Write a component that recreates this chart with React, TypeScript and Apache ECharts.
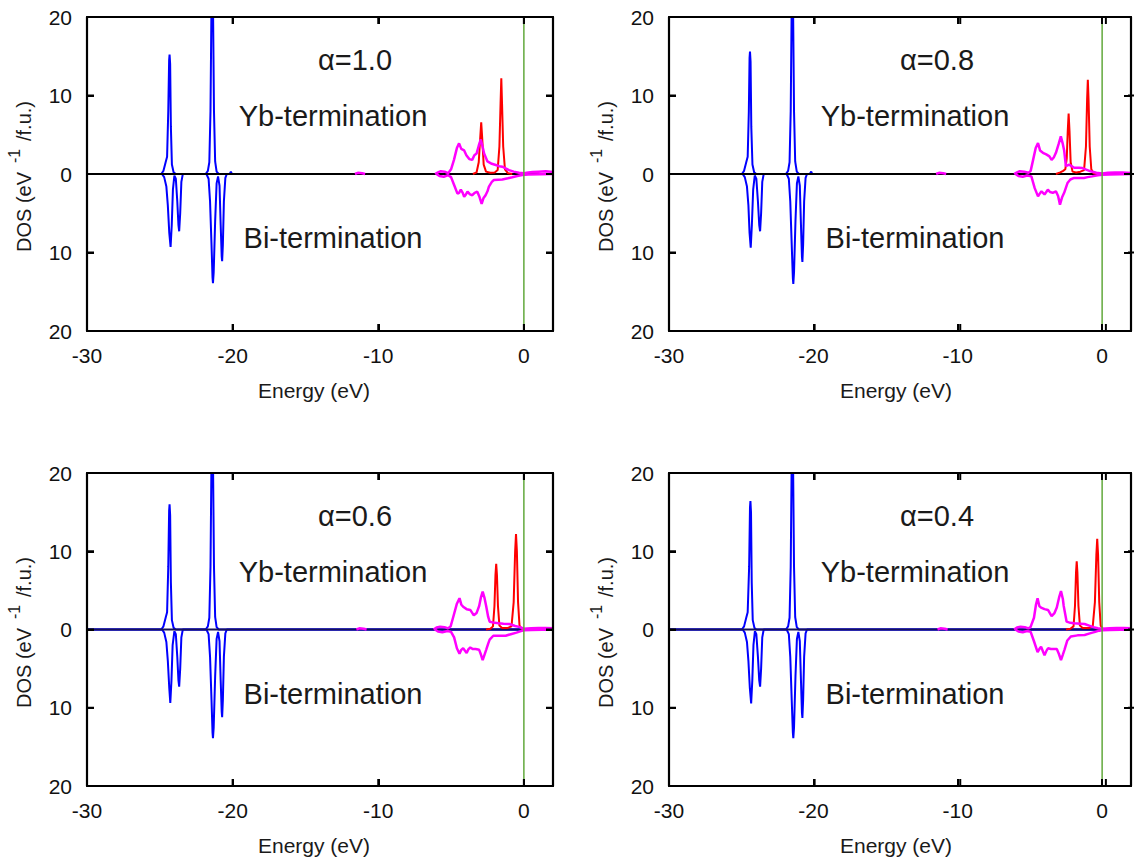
import React, { useEffect, useRef } from "react";
import * as echarts from "echarts";

// ---------- data ----------
const xTicks = [-30, -20, -10, 0];
const yTicks = [-20, -10, 0, 10, 20];
const X_MAX = 2;
const alphaLabels = ["α=1.0", "α=0.8", "α=0.6", "α=0.4"];
const ybLabel = "Yb-termination";
const biLabel = "Bi-termination";
const xTitle = "Energy (eV)";

// α = 1.0
const blueUp1 = [[-30,0],[-24.9,0],[-24.75,0.4],[-24.6,1.5],[-24.5,2.2],[-24.42,8],[-24.36,14.5],[-24.33,15.2],[-24.29,14],[-24.24,6],[-24.17,1.2],[-24.05,0.2],[-23.9,0],[-21.85,0],[-21.7,0.4],[-21.6,1.5],[-21.52,8],[-21.45,22],[-21.4,27],[-21.35,22],[-21.28,8],[-21.2,1.6],[-21.1,0.3],[-20.95,0],[-20.2,0],[-20.12,0.3],[-20.05,0],[2,0]];
const blueDown1 = [[-30,0],[-24.85,0],[-24.7,-0.4],[-24.55,-1.6],[-24.45,-4],[-24.35,-7.5],[-24.26,-9.3],[-24.18,-6.5],[-24.1,-2],[-24.0,-0.2],[-23.9,-0.6],[-23.8,-3.5],[-23.72,-6.5],[-23.67,-7.3],[-23.6,-5],[-23.52,-1],[-23.42,0],[-21.8,0],[-21.65,-0.6],[-21.55,-3.5],[-21.45,-9],[-21.38,-13.2],[-21.35,-13.9],[-21.3,-12.5],[-21.2,-6],[-21.1,-1.2],[-21.0,-0.3],[-20.9,-1.5],[-20.82,-6.5],[-20.75,-10.5],[-20.72,-11.1],[-20.67,-9],[-20.6,-3.5],[-20.5,-0.5],[-20.4,0],[2,0]];
const red1 = [[-3.5,0],[-3.25,0.2],[-3.1,1.5],[-3.0,4.5],[-2.93,6.6],[-2.86,4.5],[-2.76,1.2],[-2.6,0.3],[-2.3,0.15],[-2.0,0.2],[-1.8,0.5],[-1.68,3.5],[-1.6,9],[-1.55,12.2],[-1.5,9],[-1.42,3.5],[-1.3,0.6],[-1.1,0.1],[-0.8,0]];
const magBlip1 = [[-11.6,0],[-11.4,0.15],[-11.1,0.1],[-10.9,0]];
const magUp1 = [[-6.1,0],[-5.9,0.2],[-5.7,0.35],[-5.45,0.3],[-5.2,0.1],[-5.0,0.6],[-4.8,1.8],[-4.6,3.3],[-4.45,3.9],[-4.3,3.2],[-4.1,3.0],[-3.95,2.4],[-3.75,1.9],[-3.55,1.8],[-3.4,2.4],[-3.25,2.6],[-3.1,3.6],[-2.96,4.4],[-2.85,3.6],[-2.73,2.6],[-2.5,1.6],[-2.2,1.3],[-1.93,1.15],[-1.7,1.0],[-1.48,0.93],[-1.25,0.7],[-1.02,0.5],[-0.7,0.3],[-0.33,0.17],[0,0.1],[0.3,0.2],[0.6,0.25],[1.0,0.3],[1.5,0.34],[2,0.25]];
const magDown1 = [[-6.0,0],[-5.8,-0.25],[-5.5,-0.35],[-5.2,-0.15],[-5.0,-0.4],[-4.79,-1.4],[-4.56,-2.5],[-4.45,-2.4],[-4.33,-2.0],[-4.2,-2.4],[-4.1,-2.9],[-3.98,-2.6],[-3.87,-2.25],[-3.7,-2.6],[-3.54,-2.7],[-3.38,-2.4],[-3.2,-2.25],[-3.05,-2.9],[-2.9,-3.8],[-2.78,-3.1],[-2.63,-2.7],[-2.5,-2.2],[-2.4,-1.6],[-2.2,-1.0],[-2.06,-0.76],[-1.75,-0.72],[-1.48,-0.7],[-1.1,-0.55],[-0.8,-0.42],[-0.45,-0.25],[-0.12,-0.13],[0.3,-0.05],[2,0]];

// α = 0.8
const blueUp2 = [[-30,0],[-24.95,0],[-24.8,0.4],[-24.65,1.5],[-24.55,2.2],[-24.47,8],[-24.42,14.8],[-24.39,15.6],[-24.35,14.3],[-24.3,6],[-24.22,1.2],[-24.1,0.2],[-23.95,0],[-21.9,0],[-21.75,0.4],[-21.65,1.5],[-21.57,8],[-21.5,22],[-21.46,27],[-21.41,22],[-21.34,8],[-21.26,1.6],[-21.15,0.3],[-21.0,0],[-20.25,0],[-20.15,0.3],[-20.08,0],[2,0]];
const blueDown2 = [[-30,0],[-24.9,0],[-24.75,-0.4],[-24.6,-1.6],[-24.5,-4],[-24.42,-7.5],[-24.34,-9.4],[-24.26,-6.5],[-24.17,-2],[-24.06,-0.2],[-23.95,-0.6],[-23.84,-3.5],[-23.75,-6.5],[-23.69,-7.3],[-23.62,-5],[-23.54,-1],[-23.44,0],[-21.85,0],[-21.7,-0.6],[-21.6,-3.5],[-21.5,-9],[-21.42,-13.3],[-21.39,-14.0],[-21.34,-12.5],[-21.24,-6],[-21.14,-1.2],[-21.04,-0.3],[-20.94,-1.5],[-20.86,-6.5],[-20.79,-10.6],[-20.76,-11.2],[-20.71,-9],[-20.64,-3.5],[-20.54,-0.5],[-20.44,0],[2,0]];
const red2 = [[-3.2,0],[-2.9,0.2],[-2.7,0.4],[-2.55,0.6],[-2.45,2.0],[-2.38,5.5],[-2.32,7.7],[-2.26,5.5],[-2.18,1.5],[-2.05,0.3],[-1.8,0.2],[-1.5,0.3],[-1.25,0.5],[-1.12,3.5],[-1.04,9.5],[-0.99,12.0],[-0.94,9.5],[-0.86,3.5],[-0.75,0.6],[-0.6,0.1],[-0.3,0]];
const magBlip2 = [[-11.5,0],[-11.3,0.15],[-11.0,0.1],[-10.8,0]];
const magUp2 = [[-6.1,0],[-5.9,0.2],[-5.7,0.35],[-5.4,0.3],[-5.1,0.15],[-4.95,0.4],[-4.78,1.8],[-4.6,3.3],[-4.44,3.95],[-4.3,3.0],[-4.1,2.7],[-3.87,2.5],[-3.65,2.25],[-3.5,1.8],[-3.35,2.1],[-3.2,2.7],[-3.0,3.9],[-2.86,4.8],[-2.72,3.8],[-2.63,3.0],[-2.51,1.0],[-2.4,1.1],[-2.28,1.2],[-1.94,0.8],[-1.6,0.8],[-1.37,0.76],[-1.1,0.55],[-0.8,0.34],[-0.4,0.15],[0,0.05],[0.4,0.15],[0.9,0.2],[1.4,0.18],[2,0.13]];
const magDown2 = [[-6.0,0],[-5.8,-0.25],[-5.5,-0.35],[-5.2,-0.2],[-4.9,-0.3],[-4.67,-1.8],[-4.44,-2.85],[-4.32,-2.5],[-4.2,-2.2],[-3.99,-2.6],[-3.76,-2.0],[-3.6,-2.3],[-3.42,-2.4],[-3.2,-2.2],[-3.05,-2.8],[-2.92,-3.9],[-2.78,-3.0],[-2.63,-2.4],[-2.4,-1.15],[-2.2,-0.7],[-1.94,-0.5],[-1.6,-0.5],[-1.26,-0.5],[-1.0,-0.4],[-0.7,-0.3],[-0.3,-0.15],[0,-0.1],[0.5,-0.05],[2,0]];

// α = 0.6
const blueUp3 = [[-30,0],[-24.9,0],[-24.75,0.4],[-24.6,1.5],[-24.5,2.2],[-24.42,8],[-24.36,15.2],[-24.33,16.0],[-24.29,14.6],[-24.24,6],[-24.17,1.2],[-24.05,0.2],[-23.9,0],[-21.85,0],[-21.7,0.4],[-21.6,1.5],[-21.52,8],[-21.45,22],[-21.4,27],[-21.35,22],[-21.28,8],[-21.2,1.6],[-21.1,0.3],[-20.95,0],[2,0]];
const blueDown3 = [[-30,0],[-24.85,0],[-24.7,-0.4],[-24.55,-1.6],[-24.45,-4],[-24.35,-7.5],[-24.28,-9.4],[-24.2,-6.5],[-24.12,-2],[-24.0,-0.2],[-23.9,-0.6],[-23.8,-3.5],[-23.72,-6.5],[-23.67,-7.3],[-23.6,-5],[-23.52,-1],[-23.42,0],[-21.8,0],[-21.65,-0.6],[-21.55,-3.5],[-21.45,-9],[-21.38,-13.2],[-21.35,-13.9],[-21.3,-12.5],[-21.2,-6],[-21.1,-1.2],[-21.0,-0.3],[-20.9,-1.5],[-20.82,-6.5],[-20.75,-10.5],[-20.72,-11.2],[-20.67,-9],[-20.6,-3.5],[-20.5,-0.5],[-20.4,0],[2,0]];
const red3 = [[-2.6,0],[-2.3,0.1],[-2.12,0.4],[-2.02,3],[-1.95,7],[-1.9,8.4],[-1.85,7],[-1.78,3],[-1.68,0.5],[-1.5,0.2],[-1.1,0.2],[-0.85,0.4],[-0.7,3.5],[-0.6,10],[-0.54,12.2],[-0.48,10],[-0.4,3.5],[-0.3,0.5],[-0.15,0.1],[0,0]];
const magBlip3 = [[-11.5,0],[-11.3,0.15],[-11.0,0.1],[-10.8,0]];
const magUp3 = [[-6.2,0],[-6.0,0.25],[-5.75,0.35],[-5.45,0.3],[-5.2,0.15],[-5.03,0.4],[-4.85,1.6],[-4.6,3.3],[-4.42,4.0],[-4.3,3.2],[-4.17,2.9],[-3.93,2.6],[-3.68,2.5],[-3.44,1.8],[-3.25,2.1],[-3.07,3.0],[-2.95,4.1],[-2.83,4.85],[-2.7,4.0],[-2.59,3.0],[-2.45,1.6],[-2.35,1.0],[-2.0,0.85],[-1.74,0.8],[-1.4,0.75],[-1.0,0.7],[-0.6,0.45],[-0.27,0.3],[0,0.1],[0.5,0.15],[1.0,0.2],[1.5,0.2],[2,0.15]];
const magDown3 = [[-6.1,0],[-5.9,-0.25],[-5.6,-0.35],[-5.25,-0.2],[-5.0,-0.3],[-4.79,-1.0],[-4.6,-2.4],[-4.42,-3.1],[-4.3,-2.6],[-4.17,-2.4],[-3.93,-3.0],[-3.8,-2.5],[-3.68,-2.3],[-3.5,-2.5],[-3.32,-2.5],[-3.07,-2.6],[-2.95,-3.2],[-2.83,-3.9],[-2.7,-3.2],[-2.59,-2.6],[-2.45,-1.8],[-2.35,-1.3],[-2.1,-0.8],[-1.7,-0.8],[-1.25,-0.8],[-0.9,-0.6],[-0.51,-0.4],[-0.2,-0.2],[0,-0.1],[0.5,-0.05],[2,0]];

// α = 0.4
const blueUp4 = [[-30,0],[-24.95,0],[-24.8,0.4],[-24.65,1.5],[-24.55,2.2],[-24.45,8],[-24.39,15.6],[-24.36,16.4],[-24.32,15],[-24.27,6],[-24.2,1.2],[-24.08,0.2],[-23.95,0],[-21.9,0],[-21.75,0.4],[-21.65,1.5],[-21.57,8],[-21.5,22],[-21.46,27],[-21.41,22],[-21.34,8],[-21.26,1.6],[-21.15,0.3],[-21.0,0],[2,0]];
const blueDown4 = [[-30,0],[-24.9,0],[-24.75,-0.4],[-24.6,-1.6],[-24.5,-4],[-24.4,-7.5],[-24.31,-9.45],[-24.23,-6.5],[-24.15,-2],[-24.05,-0.2],[-23.95,-0.6],[-23.84,-3.5],[-23.75,-6.5],[-23.69,-7.3],[-23.62,-5],[-23.54,-1],[-23.44,0],[-21.85,0],[-21.7,-0.6],[-21.6,-3.5],[-21.5,-9],[-21.42,-13.2],[-21.39,-13.9],[-21.34,-12.5],[-21.24,-6],[-21.14,-1.2],[-21.04,-0.3],[-20.94,-1.5],[-20.86,-6.5],[-20.79,-10.7],[-20.76,-11.3],[-20.71,-9],[-20.64,-3.5],[-20.54,-0.5],[-20.44,0],[2,0]];
const red4 = [[-2.5,0],[-2.2,0.1],[-1.98,0.4],[-1.88,3],[-1.81,7.2],[-1.76,8.7],[-1.71,7.2],[-1.64,3],[-1.54,0.5],[-1.35,0.2],[-0.9,0.2],[-0.65,0.4],[-0.5,3.5],[-0.4,9.5],[-0.34,11.6],[-0.28,9.5],[-0.2,3.5],[-0.1,0.5],[0.05,0.1],[0.2,0]];
const magBlip4 = [[-11.4,0],[-11.2,0.15],[-10.9,0.1],[-10.7,0]];
const magUp4 = [[-6.1,0],[-5.9,0.25],[-5.65,0.35],[-5.35,0.3],[-5.1,0.15],[-4.96,0.3],[-4.72,1.5],[-4.58,3.2],[-4.47,4.0],[-4.35,3.0],[-4.23,2.8],[-3.99,2.6],[-3.75,2.5],[-3.5,1.7],[-3.3,2.1],[-3.14,2.8],[-2.98,4.1],[-2.85,4.9],[-2.72,3.9],[-2.66,3.0],[-2.46,1.0],[-2.2,0.85],[-1.94,0.8],[-1.5,0.75],[-1.21,0.7],[-0.9,0.5],[-0.6,0.3],[-0.3,0.15],[0,0.1],[0.5,0.15],[1.0,0.2],[1.5,0.18],[2,0.15]];
const magDown4 = [[-6.0,0],[-5.8,-0.25],[-5.5,-0.35],[-5.2,-0.2],[-4.95,-0.3],[-4.72,-1.5],[-4.47,-2.9],[-4.35,-2.5],[-4.23,-2.2],[-3.99,-3.3],[-3.85,-2.7],[-3.75,-2.4],[-3.55,-2.5],[-3.38,-2.5],[-3.14,-2.5],[-3.0,-3.1],[-2.85,-3.9],[-2.72,-3.2],[-2.61,-2.6],[-2.41,-1.4],[-2.17,-0.9],[-1.7,-0.75],[-1.21,-0.7],[-0.85,-0.5],[-0.48,-0.3],[-0.2,-0.15],[0,-0.1],[0.5,-0.05],[2,0]];

const zeroLine = [[-30, 0], [2, 0]];
const fermiLine = [[0, -20], [0, 20]];

const FONT = "'Liberation Sans', Arial, sans-serif";
const GRID_W = 466;
const TL = 7;

const panels = [
  { left: 87, top: 17, height: 314, blueUp: blueUp1, blueDown: blueDown1, red: red1, magBlip: magBlip1, magUp: magUp1, magDown: magDown1, zeroColor: "#000000" },
  { left: 669, top: 17, height: 314, blueUp: blueUp2, blueDown: blueDown2, red: red2, magBlip: magBlip2, magUp: magUp2, magDown: magDown2, zeroColor: "#000000" },
  { left: 87, top: 473, height: 313, blueUp: blueUp3, blueDown: blueDown3, red: red3, magBlip: magBlip3, magUp: magUp3, magDown: magDown3, zeroColor: "#17125a" },
  { left: 669, top: 473, height: 313, blueUp: blueUp4, blueDown: blueDown4, red: red4, magBlip: magBlip4, magUp: magUp4, magDown: magDown4, zeroColor: "#17125a" },
];

function buildOption() {
  const grid: any[] = [];
  const xAxis: any[] = [];
  const yAxis: any[] = [];
  const series: any[] = [];
  const graphic: any[] = [];
  const labelStyle = { color: "#111", fontFamily: FONT, fontSize: 21 };
  const frameLine = { show: true, onZero: false, lineStyle: { color: "#000", width: 2.2 } };
  const axisTick = () => ({ show: true, inside: true, length: TL, lineStyle: { color: "#000", width: 2 } });
  const xMin = xTicks[0];
  const yMin = yTicks[0];
  const yMax = yTicks[yTicks.length - 1];

  panels.forEach((p, i) => {
    grid.push({ left: p.left, top: p.top, width: GRID_W, height: p.height, show: false });
    const xBase = () => ({ type: "value", gridIndex: i, min: xMin, max: X_MAX, interval: 10, splitLine: { show: false }, axisLine: { ...frameLine }, axisTick: axisTick(), z: 10 });
    xAxis.push({ ...xBase(), position: "bottom", axisLabel: { ...labelStyle, margin: 14, formatter: (v: number) => (xTicks.indexOf(v) >= 0 ? String(v) : "") } });
    xAxis.push({ ...xBase(), position: "top", axisLabel: { show: false } });
    const yBase = () => ({ type: "value", gridIndex: i, min: yMin, max: yMax, interval: 10, splitLine: { show: false }, axisLine: { ...frameLine }, axisTick: axisTick(), z: 10 });
    yAxis.push({ ...yBase(), position: "left", axisLabel: { ...labelStyle, margin: 15, formatter: (v: number) => String(Math.abs(v)) } });
    yAxis.push({ ...yBase(), position: "right", axisLabel: { show: false } });

    const xi = 2 * i;
    const line = (data: number[][], color: string, width: number, z: number) => ({
      type: "line", xAxisIndex: xi, yAxisIndex: xi, data, showSymbol: false, symbol: "none", clip: true, silent: true, z,
      lineStyle: { color, width }, itemStyle: { color },
    });
    series.push(line(p.blueUp, "#0000ff", 2, 2));
    series.push(line(p.blueDown, "#0000ff", 2, 2));
    series.push(line(zeroLine, p.zeroColor, 2.2, 3));
    series.push(line(p.red, "#ff0000", 2, 4));
    series.push(line(p.magBlip, "#ff00ff", 2.5, 5));
    series.push(line(p.magUp, "#ff00ff", 2.5, 5));
    series.push(line(p.magDown, "#ff00ff", 2.5, 5));
    series.push(line(fermiLine, "#62a83c", 1.5, 6));

    // inward tick marks on all four frame sides (linear axis mapping of the tick values)
    const bottom = p.top + p.height;
    const right = p.left + GRID_W;
    const seg = (x1: number, y1: number, x2: number, y2: number) => ({
      type: "line", silent: true, z: 100, shape: { x1, y1, x2, y2 }, style: { stroke: "#000", lineWidth: 2 },
    });
    xTicks.slice(1).forEach((v) => {
      const x = p.left + ((v - xMin) / (X_MAX - xMin)) * GRID_W;
      graphic.push(seg(x, bottom, x, bottom - TL));
      graphic.push(seg(x, p.top, x, p.top + TL));
    });
    yTicks.slice(1, -1).forEach((v) => {
      const y = bottom - ((v - yMin) / (yMax - yMin)) * p.height;
      graphic.push(seg(p.left, y, p.left + TL, y));
      graphic.push(seg(right, y, right - TL, y));
    });

    const dy = p.top - 17;
    const dx = p.left - 87;
    const txt = (text: string, x: number, y: number, size: number) => ({
      type: "text", x, y, silent: true,
      style: { text, fill: "#1a1a1a", font: `${size}px ${FONT}`, textAlign: "center", textVerticalAlign: "middle", align: "center", verticalAlign: "middle" },
    });
    graphic.push(txt(alphaLabels[i], 355 + dx, 60 + dy, 29));
    graphic.push(txt(ybLabel, 333 + dx, 116 + dy, 29));
    graphic.push(txt(biLabel, 333 + dx, 238 + dy, 29));
    graphic.push(txt(xTitle, 314 + dx, 390 + dy + (p.height - 314), 21));
    // rotated y title: DOS (eV^-1/f.u.)
    const rot = (text: string, x: number, y: number, size: number) => ({
      type: "text", x, y, rotation: Math.PI / 2, silent: true,
      style: { text, fill: "#1a1a1a", font: `${size}px ${FONT}`, textAlign: "left", textVerticalAlign: "middle", align: "left", verticalAlign: "middle" },
    });
    graphic.push(rot("DOS (eV", 24 + dx, 252 + dy, 20));
    graphic.push(rot("-1", 14 + dx, 163 + dy, 16));
    graphic.push(rot("/f.u.)", 24 + dx, 141 + dy, 20));
  });

  return { animation: false, backgroundColor: "#ffffff", grid, xAxis, yAxis, series, graphic };
}

export default function App() {
  const ref = useRef<HTMLDivElement>(null);
  useEffect(() => {
    if (!ref.current) return;
    const chart = echarts.init(ref.current, undefined, { renderer: "svg" });
    chart.setOption(buildOption() as any);
    return () => chart.dispose();
  }, []);
  return <div ref={ref} style={{ position: "fixed", left: 0, top: 0, width: 1134, height: 859 }} />;
}
